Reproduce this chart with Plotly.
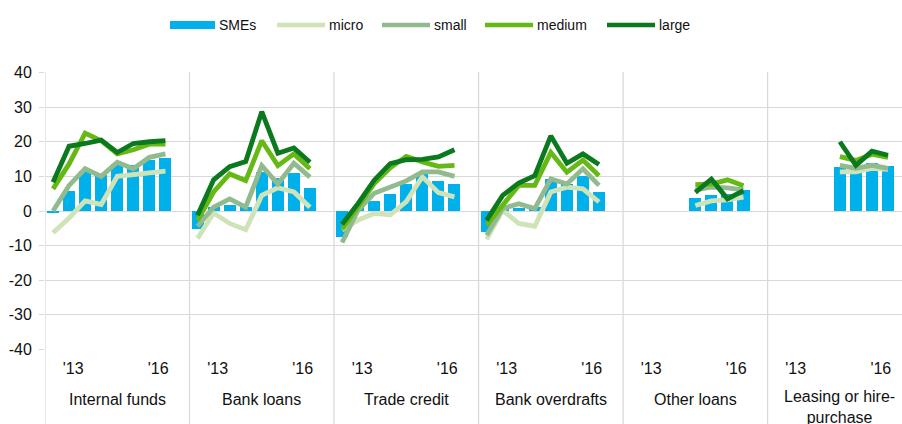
import plotly.graph_objects as go

# categories and tick labels
groups = ["Internal funds", "Bank loans", "Trade credit", "Bank overdrafts",
          "Other loans", "Leasing or hire-<br>purchase"]
tick_labels = ["'13", "'16"]
y_ticks = [-40, -30, -20, -10, 0, 10, 20, 30, 40]
y_tick_text = ["-40", "-30", "-20", "-10", "0", "10", "20", "30", "40"]

# net percentages per group, 8 half-year survey rounds each
smes = [
    [-0.7, 5.7, 11.6, 10.3, 13.6, 13.2, 14.8, 15.4],
    [-5.1, 1.3, 1.8, 1.2, 11.2, 9.6, 11.0, 6.6],
    [-7.4, 1.3, 2.9, 4.8, 7.7, 10.8, 8.7, 7.9],
    [-6.0, 0.7, 1.0, 1.3, 9.3, 7.8, 10.2, 5.6],
    [None, None, None, None, 3.8, 4.7, 5.0, 6.1],
    [None, None, None, None, 12.8, 12.8, 13.8, 12.9],
]
micro = [
    [-6.3, -2.0, 2.9, 1.9, 10.0, 10.5, 10.9, 11.5],
    [-7.9, -0.6, -3.6, -5.4, 4.5, 6.7, 5.5, 1.1],
    [-5.5, -2.6, -0.7, -1.1, 2.7, 9.9, 5.3, 4.1],
    [-8.2, 0.2, -3.6, -4.4, 5.5, 6.9, 6.4, 2.6],
    [None, None, None, None, 1.6, 2.9, 3.2, 4.0],
    [None, None, None, None, 11.3, 11.3, 12.3, 12.0],
]
small = [
    [0.0, 7.4, 12.2, 10.0, 14.1, 12.2, 15.5, 16.5],
    [-4.4, 1.1, 3.5, 1.1, 13.1, 7.8, 13.8, 9.8],
    [-9.1, 0.3, 5.1, 6.8, 8.7, 11.3, 11.3, 10.0],
    [-7.0, 0.7, 2.1, 0.7, 9.3, 7.8, 12.2, 7.4],
    [None, None, None, None, 6.1, 6.9, 6.7, 6.1],
    [None, None, None, None, 13.2, 12.3, 13.2, 12.3],
]
medium = [
    [6.4, 13.6, 22.5, 20.3, 16.5, 17.7, 19.3, 19.3],
    [-2.7, 5.5, 10.7, 8.8, 20.3, 13.1, 16.5, 12.2],
    [-5.3, 1.2, 7.9, 12.5, 15.8, 14.2, 12.9, 13.2],
    [-4.1, 1.6, 7.4, 7.4, 16.9, 11.2, 14.7, 10.2],
    [None, None, None, None, 7.6, 7.8, 9.0, 7.3],
    [None, None, None, None, 15.7, 14.6, 16.4, 15.5],
]
large = [
    [8.3, 18.7, 19.5, 20.5, 16.9, 19.5, 20.0, 20.3],
    [-1.2, 9.0, 12.8, 14.3, 28.7, 16.7, 18.2, 14.1],
    [-3.8, 2.2, 8.9, 13.7, 14.8, 14.9, 15.6, 17.7],
    [-2.7, 4.5, 8.1, 10.2, 21.7, 13.8, 16.5, 13.4],
    [None, None, None, None, 5.4, 9.2, 3.5, 5.9],
    [None, None, None, None, 20.0, 13.2, 17.3, 16.1],
]

SLOTS = 9  # 8 rounds + one empty slot per group


def flatten(series):
    xs, ys = [], []
    for g, vals in enumerate(series):
        for i in range(SLOTS):
            xs.append(g * SLOTS + i)
            ys.append(vals[i] if i < len(vals) else None)
    return xs, ys


colors = {"SMEs": "#00B0EA", "micro": "#D0E3B8", "small": "#92BA8F",
          "medium": "#66B814", "large": "#0B7A1E"}

fig = go.Figure()
x, y = flatten(smes)
fig.add_trace(go.Bar(x=x, y=y, width=0.75, marker_color=colors["SMEs"],
                     marker_line_width=0, name="SMEs"))
for name, series in [("micro", micro), ("small", small),
                     ("medium", medium), ("large", large)]:
    x, y = flatten(series)
    fig.add_trace(go.Scatter(x=x, y=y, mode="lines", name=name,
                             line=dict(color=colors[name], width=4.8),
                             connectgaps=False))

# plot area in pixels
L, R, T, B = 45, 902, 72, 350


def px(xp):
    return (xp - L) / (R - L)


def py(yp):
    return (B - yp) / (B - T)


shapes = []
# group separators running down through the label area
for g in range(len(groups) + 1):
    shapes.append(dict(type="line", xref="x", yref="paper",
                       x0=g * SLOTS - 0.5, x1=g * SLOTS - 0.5,
                       y0=py(430), y1=1, line=dict(color="#D9D9D9", width=1.3),
                       layer="below"))

annotations = []
for g, name in enumerate(groups):
    annotations.append(dict(x=g * SLOTS + 4, y=py(399) if "<br>" not in name else py(407),
                            xref="x", yref="paper", text=name, showarrow=False,
                            font=dict(size=16), yanchor="middle"))

# hand-drawn legend
legend_items = [("SMEs", 170, 215, "bar"), ("micro", 277, 325, "line"),
                ("small", 382, 430, "line"), ("medium", 485, 533, "line"),
                ("large", 607, 655, "line")]
for name, x0, x1, kind in legend_items:
    if kind == "bar":
        shapes.append(dict(type="rect", xref="paper", yref="paper",
                           x0=px(x0), x1=px(x1), y0=py(29), y1=py(21),
                           fillcolor=colors[name], line_width=0))
    else:
        shapes.append(dict(type="line", xref="paper", yref="paper",
                           x0=px(x0), x1=px(x1), y0=py(25), y1=py(25),
                           line=dict(color=colors[name], width=4.5)))
    annotations.append(dict(x=px(x1 + 2), y=py(25), xref="paper", yref="paper",
                            text=name, showarrow=False, xanchor="left",
                            yanchor="middle", font=dict(size=14)))

tickvals, ticktext = [], []
for g in range(len(groups)):
    tickvals += [g * SLOTS + 1.25, g * SLOTS + 6.55]
    ticktext += tick_labels

fig.update_layout(
    width=902, height=424,
    margin=dict(l=L, r=902 - R, t=T, b=424 - B),
    plot_bgcolor="white", paper_bgcolor="white",
    font=dict(family="Liberation Sans, Arial, sans-serif", size=16, color="#111111"),
    showlegend=False, bargap=0,
    shapes=shapes, annotations=annotations,
    xaxis=dict(range=[-0.5, 52.87], tickvals=tickvals, ticktext=ticktext,
               showgrid=False, zeroline=False, ticks="outside", ticklen=4,
               tickcolor="rgba(0,0,0,0)", fixedrange=True, automargin=False),
    yaxis=dict(range=[-40.15, 40.15], tickvals=y_ticks, ticktext=y_tick_text,
               showgrid=True, gridcolor="#D9D9D9", gridwidth=1.3, zeroline=False,
               ticks="outside", ticklen=5, tickcolor="#D9D9D9",
               ticklabelstandoff=4, automargin=False, fixedrange=True),
)

# the page's default body margin would shift the figure by 8px
fig.write_html("out.html", config={"displayModeBar": False},
               post_script="document.body.style.margin='0';")
